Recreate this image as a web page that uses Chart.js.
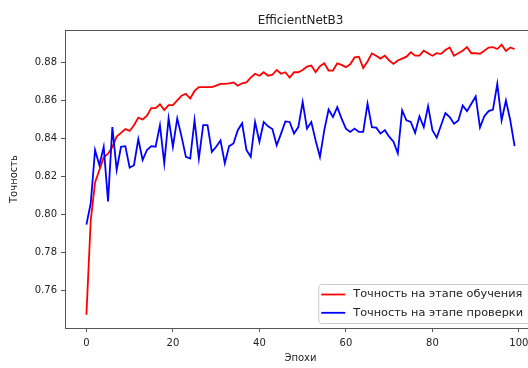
<!DOCTYPE html>
<html>
<head>
<meta charset="utf-8">
<title>EfficientNetB3</title>
<script src="https://cdn.jsdelivr.net/npm/chart.js@4.4.0/dist/chart.umd.min.js"></script>
<style>
  html, body { margin: 0; padding: 0; background: #fff; overflow: hidden; }
  canvas { display: block; }
</style>
</head>
<body>
<canvas id="grafica" width="540" height="368"></canvas>
<script>
// Textos de la gráfica
const titulo = "EfficientNetB3";
const nombresSeries = ["Точность на этапе обучения", "Точность на этапе проверки"];
const etiquetaX = "Эпохи";
const etiquetaY = "Точность";

// Marcas de los ejes
const ticksX = [0, 20, 40, 60, 80, 100];
const ticksY = [0.76, 0.78, 0.80, 0.82, 0.84, 0.86, 0.88];

// Precisión de entrenamiento (rojo), una por época
const precisionEntrenamiento = [
    0.7475, 0.797, 0.817, 0.8235, 0.830, 0.832, 0.8355, 0.841, 0.843, 0.845,
    0.844, 0.847, 0.851, 0.850, 0.852, 0.856, 0.856, 0.858, 0.855, 0.8575,
    0.8575, 0.860, 0.8625, 0.8635, 0.861, 0.865, 0.867, 0.867, 0.867, 0.867,
    0.8678, 0.8687, 0.8687, 0.869, 0.8695, 0.8678, 0.869, 0.8695, 0.872, 0.874,
    0.873, 0.8748, 0.873, 0.8735, 0.876, 0.874, 0.8748, 0.872, 0.8748, 0.8748,
    0.876, 0.8778, 0.8783, 0.8748, 0.878, 0.8795, 0.8757, 0.8757, 0.8795, 0.8787,
    0.8775, 0.879, 0.8826, 0.883, 0.877, 0.8805, 0.8847, 0.8835, 0.882, 0.8835,
    0.881, 0.8792, 0.881, 0.882, 0.883, 0.8853, 0.8835, 0.8835, 0.8861, 0.8848,
    0.8835, 0.8848, 0.8845, 0.8865, 0.8878, 0.8835, 0.8848, 0.8861, 0.888, 0.8848,
    0.8848, 0.8845, 0.8861, 0.8878, 0.888, 0.887, 0.8893, 0.886, 0.8878, 0.887
];

// Precisión de validación (azul), una por época
const precisionValidacion = [
    0.7948, 0.806, 0.834, 0.826, 0.8357, 0.807, 0.846, 0.8235, 0.8357, 0.836,
    0.8247, 0.826, 0.8397, 0.8287, 0.834, 0.836, 0.8357, 0.847, 0.827, 0.8506,
    0.8357, 0.8506, 0.841, 0.8304, 0.8295, 0.8496, 0.8295, 0.847, 0.847, 0.833,
    0.8357, 0.839, 0.827, 0.836, 0.8374, 0.8444, 0.848, 0.834, 0.8304, 0.8487,
    0.8383, 0.8487, 0.8464, 0.845, 0.8365, 0.8426, 0.849, 0.8487, 0.8426, 0.846,
    0.8592, 0.8452, 0.8487, 0.839, 0.8304, 0.8444, 0.8552, 0.8513, 0.8565, 0.8505,
    0.8452, 0.8435, 0.8452, 0.8435, 0.8435, 0.8583, 0.846, 0.8457, 0.8426, 0.8444,
    0.841, 0.8383, 0.8322, 0.8548, 0.8496, 0.8487, 0.843, 0.8517, 0.846, 0.857,
    0.8444, 0.8405, 0.847, 0.8534, 0.8513, 0.8478, 0.8495, 0.8574, 0.8544, 0.8583,
    0.8621, 0.8458, 0.8517, 0.8544, 0.8552, 0.8687, 0.8496, 0.860, 0.8496, 0.836
];

// Número de época (0, 1, 2, ...)
const epocas = precisionEntrenamiento.map((v, i) => i);

const fuente = "'DejaVu Sans', sans-serif";
const colorTexto = "#222";
const colorEje = "#555";

// Plugin: marco, título y leyenda al estilo matplotlib
const pluginMarco = {
    id: "marco",
    afterDatasetsDraw(chart) {
        const ctx = chart.ctx;
        const a = chart.chartArea;

        // Marco del área de datos
        ctx.save();
        ctx.strokeStyle = colorEje;
        ctx.lineWidth = 1;
        ctx.strokeRect(a.left + 0.5, a.top + 0.5, a.right - a.left, a.bottom - a.top);

        // Título centrado sobre el área de datos
        ctx.fillStyle = colorTexto;
        ctx.font = "12px " + fuente;
        ctx.textAlign = "center";
        ctx.textBaseline = "alphabetic";
        ctx.fillText(titulo, (a.left + a.right) / 2, a.top - 6);

        // Leyenda abajo a la derecha
        ctx.font = "11.3px " + fuente;
        const anchoTexto = Math.max(...nombresSeries.map(t => ctx.measureText(t).width));
        const derecha = a.right - 5;
        const abajo = a.bottom - 5;
        const ancho = anchoTexto + 43;
        const alto = 39;
        const izquierda = derecha - ancho;
        const arriba = abajo - alto;
        ctx.beginPath();
        ctx.roundRect(izquierda + 0.5, arriba + 0.5, ancho, alto, 3);
        ctx.fillStyle = "rgba(255,255,255,0.8)";
        ctx.fill();
        ctx.strokeStyle = "#cccccc";
        ctx.lineWidth = 1;
        ctx.stroke();

        chart.data.datasets.forEach((ds, i) => {
            const y = arriba + 10.5 + i * 18.3;
            ctx.beginPath();
            ctx.moveTo(izquierda + 3, y);
            ctx.lineTo(izquierda + 27, y);
            ctx.strokeStyle = ds.borderColor;
            ctx.lineWidth = 1.8;
            ctx.stroke();
            ctx.fillStyle = colorTexto;
            ctx.textAlign = "left";
            ctx.textBaseline = "middle";
            ctx.fillText(ds.label, izquierda + 35, y);
        });
        ctx.restore();
    }
};

function crearGrafica() {
    var ctx = document.getElementById("grafica").getContext("2d");
    new Chart(ctx, {
        type: "line",
        data: {
            datasets: [
                {
                    label: nombresSeries[0],
                    data: epocas.map((x, i) => ({ x: x, y: precisionEntrenamiento[i] })),
                    borderColor: "#ff0000",
                    order: 1
                },
                {
                    label: nombresSeries[1],
                    data: epocas.map((x, i) => ({ x: x, y: precisionValidacion[i] })),
                    borderColor: "#0000ff",
                    order: 0
                }
            ]
        },
        options: {
            responsive: false,
            animation: false,
            events: [],
            layout: { padding: { top: 30, right: 4, left: 0, bottom: 0 } },
            elements: {
                point: { radius: 0 },
                line: { borderWidth: 1.8, tension: 0, fill: false }
            },
            plugins: {
                legend: { display: false },
                title: { display: false },
                tooltip: { enabled: false }
            },
            scales: {
                x: {
                    type: "linear",
                    min: -4.95,
                    max: 103.95,
                    afterBuildTicks: (s) => { s.ticks = ticksX.map(v => ({ value: v })); },
                    afterFit: (s) => { s.height = 40; },
                    grid: { display: true, drawOnChartArea: false, drawTicks: true, tickLength: 4, color: colorEje },
                    border: { display: false },
                    ticks: { font: { family: fuente, size: 10 }, color: colorTexto, padding: 5, maxRotation: 0 },
                    title: {
                        display: true, text: etiquetaX, color: colorTexto,
                        font: { family: fuente, size: 10 },
                        padding: { top: 0, bottom: 4 }
                    }
                },
                y: {
                    type: "linear",
                    min: 0.7405,
                    max: 0.897,
                    afterBuildTicks: (s) => { s.ticks = ticksY.map(v => ({ value: v })); },
                    afterFit: (s) => { s.width = 65; },
                    grid: { display: true, drawOnChartArea: false, drawTicks: true, tickLength: 4, color: colorEje },
                    border: { display: false },
                    ticks: {
                        font: { family: fuente, size: 10 }, color: colorTexto, padding: 4,
                        callback: (v) => v.toFixed(2)
                    },
                    title: {
                        display: true, text: etiquetaY, color: colorTexto,
                        font: { family: fuente, size: 10 },
                        padding: { top: 8, bottom: 0 }
                    }
                }
            }
        },
        plugins: [pluginMarco]
    });
}

window.onload = crearGrafica;
</script>
</body>
</html>
